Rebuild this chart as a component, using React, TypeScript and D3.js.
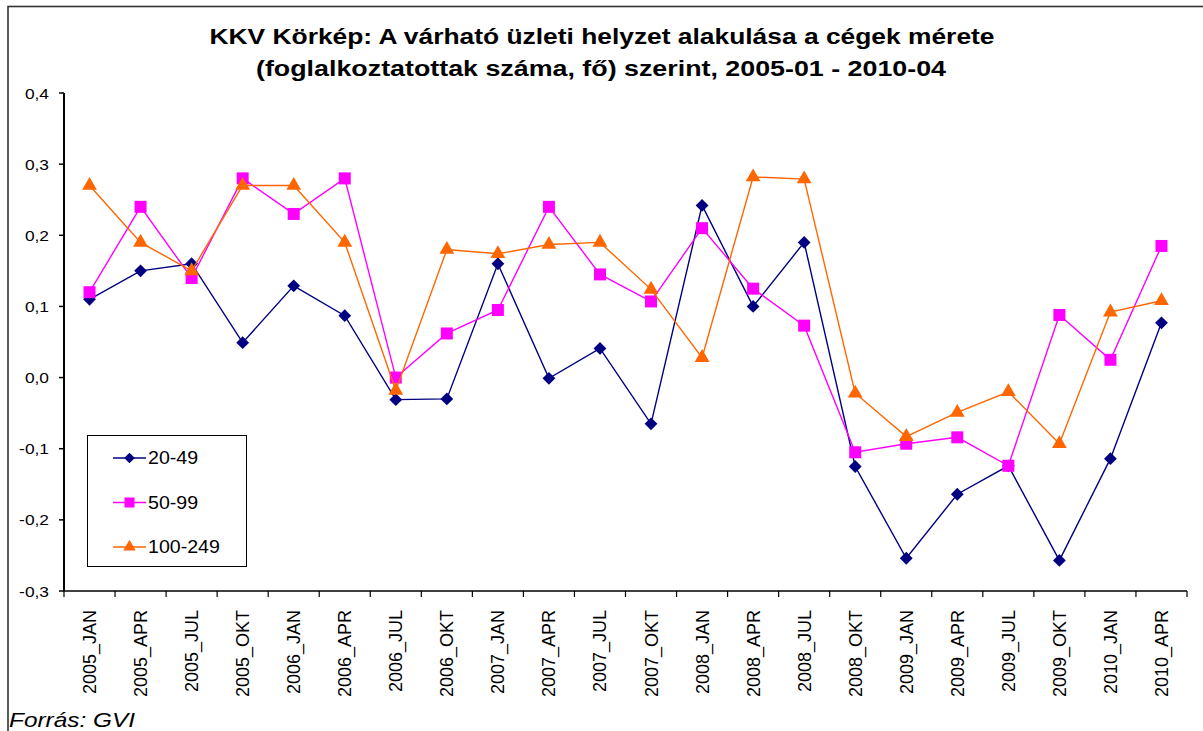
import React, { useEffect, useRef } from 'react';
import * as d3 from 'd3';

const categories = [
  '2005_JAN', '2005_APR', '2005_JUL', '2005_OKT', '2006_JAN', '2006_APR', '2006_JUL', '2006_OKT',
  '2007_JAN', '2007_APR', '2007_JUL', '2007_OKT', '2008_JAN', '2008_APR', '2008_JUL', '2008_OKT',
  '2009_JAN', '2009_APR', '2009_JUL', '2009_OKT', '2010_JAN', '2010_APR',
];

const s20_49 = [0.11, 0.15, 0.16, 0.049, 0.129, 0.087, -0.031, -0.03, 0.16, -0.001, 0.041, -0.065,
  0.242, 0.1, 0.19, -0.125, -0.254, -0.164, -0.124, -0.257, -0.114, 0.077];
const s50_99 = [0.12, 0.24, 0.14, 0.28, 0.23, 0.28, 0.0, 0.062, 0.095, 0.24, 0.145, 0.107,
  0.21, 0.125, 0.073, -0.105, -0.093, -0.084, -0.124, 0.088, 0.025, 0.185];
const s100_249 = [0.27, 0.19, 0.15, 0.27, 0.27, 0.19, -0.018, 0.18, 0.174, 0.187, 0.19, 0.124,
  0.028, 0.282, 0.279, -0.022, -0.083, -0.049, -0.02, -0.093, 0.092, 0.108];

const seriesNames = ['20-49', '50-99', '100-249'];
const seriesColors = ['#000080', '#FF00FF', '#FF6600'];
const yTicks = [0.4, 0.3, 0.2, 0.1, 0.0, -0.1, -0.2, -0.3];

const font = '"Liberation Sans", Arial, sans-serif';

// Excel-style markers: diamond is a square turned 45 degrees
const markerShapes = [
  { type: d3.symbolSquare, size: 82, rotate: 45 },
  { type: d3.symbolSquare, size: 144, rotate: 0 },
  { type: d3.symbolTriangle, size: 95, rotate: 0 },
];

function drawChart(container: SVGSVGElement) {
  const svg = d3.select(container);
  svg.selectAll('*').remove();

  const left = 64, right = 1187, top = 93, bottom = 591;

  // outer frame (right and bottom edges fall outside the picture)
  svg.append('rect')
    .attr('x', 8).attr('y', 6.5)
    .attr('width', 1300).attr('height', 800)
    .attr('fill', '#fff').attr('stroke', '#333').attr('stroke-width', 1.6);

  // title
  svg.append('text')
    .attr('x', 602).attr('y', 44).attr('text-anchor', 'middle')
    .style('font-family', font).style('font-weight', 'bold').style('font-size', '22.5px')
    .attr('fill', '#000')
    .attr('textLength', 785).attr('lengthAdjust', 'spacingAndGlyphs')
    .text('KKV Körkép: A várható üzleti helyzet alakulása a cégek mérete');
  svg.append('text')
    .attr('x', 601).attr('y', 76).attr('text-anchor', 'middle')
    .style('font-family', font).style('font-weight', 'bold').style('font-size', '22.5px')
    .attr('fill', '#000')
    .attr('textLength', 690).attr('lengthAdjust', 'spacingAndGlyphs')
    .text('(foglalkoztatottak száma, fő) szerint, 2005-01 - 2010-04');

  const x = d3.scaleBand().domain(categories).range([left, right]);
  const y = d3.scaleLinear().domain([-0.3, 0.4]).range([bottom, top]);

  // y axis
  const yg = svg.append('g');
  yg.append('line')
    .attr('x1', left).attr('x2', left).attr('y1', top).attr('y2', bottom)
    .attr('stroke', '#000').attr('stroke-width', 2);
  yg.selectAll('line.tick').data(yTicks).enter().append('line')
    .attr('class', 'tick')
    .attr('x1', left - 5).attr('x2', left)
    .attr('y1', d => y(d)).attr('y2', d => y(d))
    .attr('stroke', '#000').attr('stroke-width', 1.5);
  yg.selectAll('text').data(yTicks).enter().append('text')
    .attr('transform', d => `translate(49,${y(d) + 5.5}) scale(1.12,1)`)
    .attr('text-anchor', 'end')
    .attr('font-family', font).attr('font-size', 15.5)
    .attr('fill', '#000')
    .text(d => d3.format('.1f')(d).replace('.', ',').replace('\u2212', '-'));

  // x axis, ticks on category boundaries
  const xg = svg.append('g');
  xg.append('line')
    .attr('x1', left).attr('x2', right).attr('y1', bottom).attr('y2', bottom)
    .attr('stroke', '#000').attr('stroke-width', 1.5);
  const bounds = categories.map(c => x(c) as number).concat([right]);
  xg.selectAll('line.tick').data(bounds).enter().append('line')
    .attr('class', 'tick')
    .attr('x1', d => d).attr('x2', d => d)
    .attr('y1', bottom).attr('y2', bottom + 6)
    .attr('stroke', '#000').attr('stroke-width', 1.2);
  xg.selectAll('text').data(categories).enter().append('text')
    .attr('transform', d => `translate(${(x(d) as number) + x.bandwidth() / 2 + 6.5},${bottom + 19}) rotate(-90)`)
    .attr('text-anchor', 'end')
    .attr('font-family', font).attr('font-size', 18)
    .attr('fill', '#000')
    .text(d => d);

  // series
  const allSeries = [s20_49, s50_99, s100_249];
  const cx = (i: number) => (x(categories[i]) as number) + x.bandwidth() / 2;
  const line = d3.line<number>().x((_, i) => cx(i)).y(d => y(d));

  allSeries.forEach((values, si) => {
    const m = markerShapes[si];
    svg.append('path')
      .datum(values)
      .attr('d', line)
      .attr('fill', 'none')
      .attr('stroke', seriesColors[si])
      .attr('stroke-width', 1.4);
    svg.selectAll(`path.m${si}`).data(values).enter().append('path')
      .attr('class', `m${si}`)
      .attr('transform', (d, i) => `translate(${cx(i)},${y(d)}) rotate(${m.rotate})`)
      .attr('d', d3.symbol().type(m.type).size(m.size))
      .attr('fill', seriesColors[si]);
  });

  // legend
  const lg = svg.append('g');
  lg.append('rect')
    .attr('x', 87.5).attr('y', 435.5).attr('width', 159).attr('height', 131)
    .attr('fill', '#fff').attr('stroke', '#000').attr('stroke-width', 1);
  seriesNames.forEach((name, si) => {
    const ly = 458 + si * 44.5;
    const m = markerShapes[si];
    lg.append('line')
      .attr('x1', 113).attr('x2', 146).attr('y1', ly).attr('y2', ly)
      .attr('stroke', seriesColors[si]).attr('stroke-width', 1.4);
    lg.append('path')
      .attr('transform', `translate(129.5,${ly}) rotate(${m.rotate})`)
      .attr('d', d3.symbol().type(m.type).size(m.size * 0.7))
      .attr('fill', seriesColors[si]);
    lg.append('text')
      .attr('transform', `translate(148,${ly + 6}) scale(1.12,1)`)
      .attr('font-family', font).attr('font-size', 17.5)
      .attr('fill', '#000')
      .text(name);
  });

  // source
  svg.append('text')
    .attr('x', 9).attr('y', 727)
    .attr('font-family', font).attr('font-size', 21).attr('font-style', 'italic')
    .attr('fill', '#000')
    .attr('textLength', 126).attr('lengthAdjust', 'spacingAndGlyphs')
    .text('Forrás: GVI');
}

export default function App() {
  const ref = useRef<SVGSVGElement>(null);
  useEffect(() => {
    if (ref.current) drawChart(ref.current);
  }, []);
  return (
    <svg ref={ref} width={1203} height={731}
      style={{ position: 'absolute', left: 0, top: 0, background: '#fff' }} />
  );
}
